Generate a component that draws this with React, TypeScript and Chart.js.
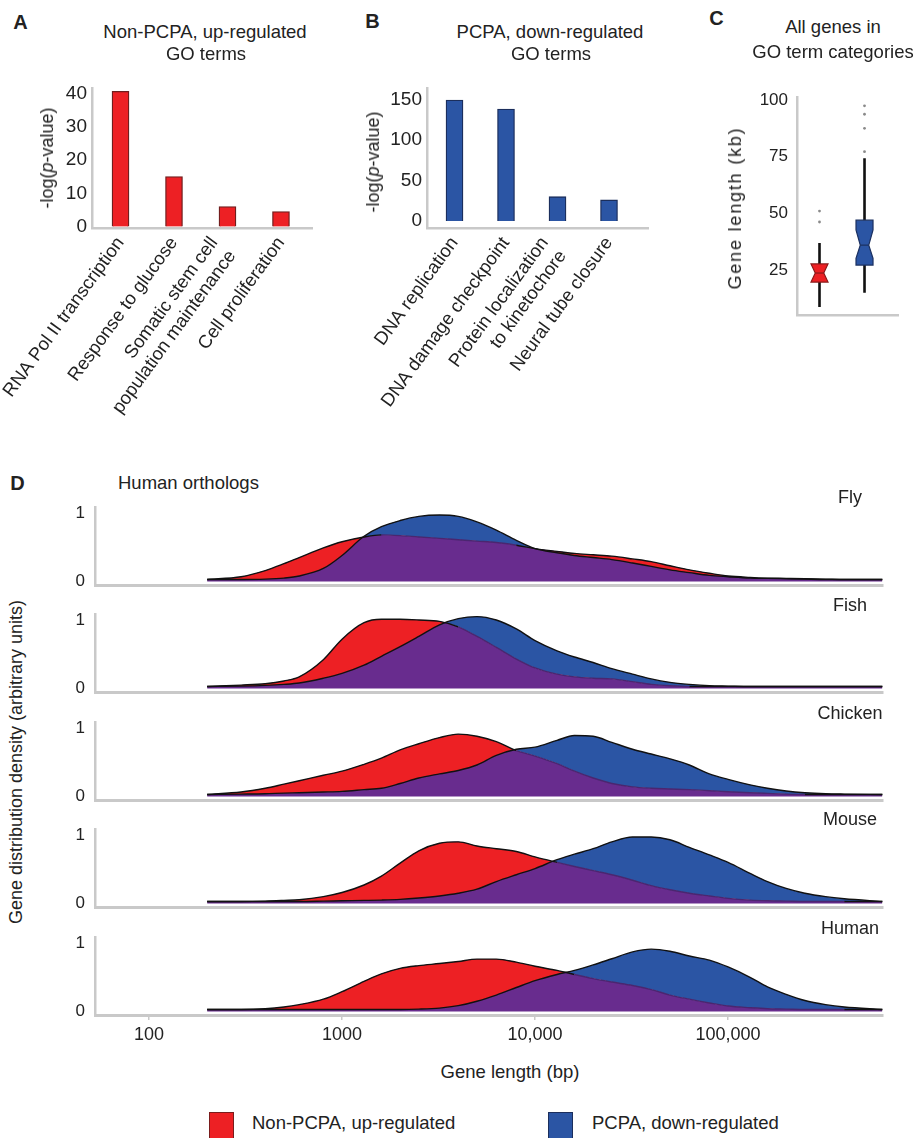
import React, { useEffect, useRef } from 'react';
import { Chart, registerables } from 'chart.js';

Chart.register(...registerables);

// ---------- Panel A data ----------
const upTerms: (string | string[])[] = [
  'RNA Pol II transcription',
  'Response to glucose',
  ['Somatic stem cell', 'population maintenance'],
  'Cell proliferation',
];
const upValues = [40.8, 15.1, 6.0, 4.5];
const upTicks = [0, 10, 20, 30, 40];

// ---------- Panel B data ----------
const downTerms: (string | string[])[] = [
  'DNA replication',
  'DNA damage checkpoint',
  ['Protein localization', 'to kinetochore'],
  'Neural tube closure',
];
const downValues = [149, 138, 30, 26];
const downTicks = [0, 50, 100, 150];

// ---------- Panel C data (gene length, kb) ----------
const boxGroups = ['Non-PCPA, up-regulated', 'PCPA, down-regulated'];
const boxWhiskerLow = [8.7, 15.0];
const boxQ1 = [19.7, 27.2];
const boxMedian = [23.7, 36.0];
const boxQ3 = [27.7, 47.0];
const boxWhiskerHigh = [36.9, 74.3];
const boxNotchLow = [19.7, 30.2];
const boxNotchHigh = [27.7, 42.7];
const boxOutliers = [
  [46.2, 51.0],
  [77.2, 87.5, 93.7, 97.4],
];
const boxTicks = [25, 50, 75, 100];

// ---------- Panel D data ----------
const geneLengthBp = [
  200, 300, 400, 500, 600, 800, 1000, 1300, 1600, 2000, 2500, 3200, 4000, 5000, 6300, 8000, 10000,
  13000, 16000, 20000, 25000, 32000, 40000, 50000, 63000, 80000, 100000, 130000, 160000, 200000,
  250000, 320000, 400000, 630000,
];
const species = ['Fly', 'Fish', 'Chicken', 'Mouse', 'Human'];

const flyNonPcpa = [0.03, 0.07, 0.16, 0.26, 0.35, 0.49, 0.58, 0.65, 0.68, 0.67, 0.65, 0.63, 0.61, 0.59, 0.57, 0.53, 0.48, 0.44, 0.41, 0.39, 0.37, 0.33, 0.29, 0.23, 0.17, 0.12, 0.08, 0.06, 0.05, 0.045, 0.04, 0.035, 0.03, 0.03];
const flyPcpa = [0.03, 0.03, 0.035, 0.05, 0.08, 0.19, 0.38, 0.66, 0.8, 0.89, 0.95, 0.97, 0.95, 0.87, 0.75, 0.6, 0.48, 0.42, 0.38, 0.35, 0.32, 0.27, 0.22, 0.17, 0.13, 0.09, 0.07, 0.05, 0.045, 0.04, 0.035, 0.03, 0.03, 0.03];

const fishNonPcpa = [0.03, 0.05, 0.07, 0.11, 0.17, 0.42, 0.72, 0.96, 1.01, 1.01, 1.0, 0.98, 0.9, 0.76, 0.6, 0.43, 0.3, 0.21, 0.17, 0.15, 0.14, 0.1, 0.06, 0.04, 0.03, 0.03, 0.03, 0.03, 0.03, 0.03, 0.03, 0.03, 0.03, 0.03];
const fishPcpa = [0.03, 0.035, 0.045, 0.06, 0.08, 0.15, 0.22, 0.34, 0.47, 0.61, 0.76, 0.93, 1.02, 1.05, 1.0, 0.87, 0.7, 0.55, 0.46, 0.38, 0.29, 0.21, 0.14, 0.09, 0.06, 0.04, 0.035, 0.03, 0.03, 0.03, 0.03, 0.03, 0.03, 0.03];

const chickenNonPcpa = [0.03, 0.065, 0.12, 0.18, 0.23, 0.31, 0.37, 0.47, 0.56, 0.68, 0.77, 0.86, 0.91, 0.88, 0.8, 0.67, 0.59, 0.48, 0.37, 0.27, 0.19, 0.14, 0.12, 0.11, 0.1, 0.085, 0.07, 0.055, 0.045, 0.035, 0.03, 0.03, 0.03, 0.03];
const chickenPcpa = [0.03, 0.035, 0.04, 0.05, 0.055, 0.065, 0.075, 0.1, 0.12, 0.19, 0.27, 0.33, 0.38, 0.46, 0.6, 0.69, 0.72, 0.82, 0.89, 0.88, 0.79, 0.69, 0.62, 0.55, 0.46, 0.33, 0.25, 0.17, 0.12, 0.08, 0.055, 0.04, 0.035, 0.03];

const mouseNonPcpa = [0.03, 0.03, 0.035, 0.045, 0.055, 0.1, 0.16, 0.27, 0.4, 0.59, 0.77, 0.88, 0.9, 0.84, 0.8, 0.76, 0.68, 0.6, 0.54, 0.48, 0.42, 0.34, 0.26, 0.2, 0.15, 0.11, 0.075, 0.05, 0.04, 0.035, 0.03, 0.03, 0.03, 0.03];
const mousePcpa = [0.03, 0.03, 0.03, 0.03, 0.03, 0.035, 0.04, 0.045, 0.05, 0.06, 0.08, 0.11, 0.15, 0.21, 0.32, 0.42, 0.51, 0.64, 0.72, 0.8, 0.9, 0.97, 0.97, 0.93, 0.82, 0.71, 0.6, 0.44, 0.32, 0.22, 0.15, 0.1, 0.07, 0.03];

const humanNonPcpa = [0.03, 0.03, 0.04, 0.065, 0.1, 0.18, 0.29, 0.44, 0.55, 0.63, 0.67, 0.7, 0.73, 0.765, 0.765, 0.72, 0.66, 0.6, 0.54, 0.48, 0.43, 0.38, 0.32, 0.24, 0.18, 0.125, 0.08, 0.055, 0.04, 0.035, 0.03, 0.03, 0.03, 0.03];
const humanPcpa = [0.03, 0.03, 0.03, 0.03, 0.03, 0.03, 0.03, 0.03, 0.03, 0.03, 0.035, 0.05, 0.085, 0.15, 0.24, 0.35, 0.45, 0.54, 0.6, 0.68, 0.77, 0.87, 0.91, 0.88, 0.81, 0.75, 0.65, 0.5, 0.36, 0.25, 0.16, 0.1, 0.065, 0.03];

const densityNonPcpa = [flyNonPcpa, fishNonPcpa, chickenNonPcpa, mouseNonPcpa, humanNonPcpa];
const densityPcpa = [flyPcpa, fishPcpa, chickenPcpa, mousePcpa, humanPcpa];
const densityYTicks = [0, 1];
const densityXTicks = [100, 1000, 10000, 100000];
const densityXTickLabels = ['100', '1000', '10,000', '100,000'];

// ---------- styles ----------
const FONT = '"Liberation Sans", Arial, Helvetica, sans-serif';
const TEXT = '#222';
const AXIS_GRAY = '#c9c9c9';
const RED = '#ED2024';
const BLUE = '#2B55A4';
const PURPLE = '#682C8E';
const LINE = '#111';
const HIDDEN_LINE = '#4a2670';

const rowAxisY = [585, 692, 800, 907, 1015];

function goBarConfig(
  terms: (string | string[])[],
  values: number[],
  ticks: number[],
  fill: string,
  edge: string,
  yMin: number,
  yMax: number,
  xMin: number,
  xMax: number,
  yWidth: number,
  padRight: number
): any {
  return {
    type: 'bar',
    data: {
      datasets: [
        {
          data: values.map((v, i) => ({ x: i, y: v })),
          backgroundColor: fill,
          borderColor: edge,
          borderWidth: 1.3,
          barThickness: 17,
        },
      ],
    },
    options: {
      responsive: false,
      animation: false,
      layout: { padding: { top: 28, right: padRight, left: 0, bottom: 0 } },
      plugins: { legend: { display: false }, tooltip: { enabled: false } },
      scales: {
        x: {
          type: 'linear',
          offset: false,
          min: xMin,
          max: xMax,
          grid: { display: false, drawTicks: false, offset: false },
          border: { display: true, color: AXIS_GRAY, width: 2.5 },
          afterBuildTicks: (s: any) => {
            // two-line labels are centred on their bar, as in the figure
            s.ticks = terms.map((t, i) => ({ value: Array.isArray(t) ? i - 0.25 : i }));
          },
          ticks: {
            autoSkip: false,
            minRotation: 54,
            maxRotation: 54,
            padding: 5,
            color: TEXT,
            font: { family: FONT, size: 18.5 },
            callback: (_v: any, i: number) => terms[i],
          },
          afterFit: (s: any) => {
            s.height = 212;
            s.paddingLeft = 0;
            s.paddingRight = 0;
          },
        },
        y: {
          min: yMin,
          max: yMax,
          grid: { display: false, drawTicks: false },
          border: { display: true, color: AXIS_GRAY, width: 2.5 },
          afterBuildTicks: (s: any) => {
            s.ticks = ticks.map((v) => ({ value: v }));
          },
          ticks: { padding: 5, color: TEXT, font: { family: FONT, size: 19 } },
          afterFit: (s: any) => {
            s.width = yWidth;
            s.paddingTop = 0;
            s.paddingBottom = 0;
          },
        },
      },
    },
  };
}

const boxFill = [RED, BLUE];
const boxEdge = ['#8B1A1A', '#1B3060'];

const notchedBoxPlugin = {
  id: 'notchedBoxes',
  beforeDatasetsDraw(chart: any) {
    const { ctx, scales } = chart;
    const x = scales.x;
    const y = scales.y;
    boxGroups.forEach((_, i) => {
      const cx = x.getPixelForValue(i);
      const half = 8.5;
      const nh = half * 0.5;
      const yq3 = y.getPixelForValue(boxQ3[i]);
      const yq1 = y.getPixelForValue(boxQ1[i]);
      const ym = y.getPixelForValue(boxMedian[i]);
      const ynh = y.getPixelForValue(boxNotchHigh[i]);
      const ynl = y.getPixelForValue(boxNotchLow[i]);
      ctx.save();
      ctx.strokeStyle = LINE;
      ctx.lineWidth = 2.6;
      ctx.beginPath();
      ctx.moveTo(cx, y.getPixelForValue(boxWhiskerHigh[i]));
      ctx.lineTo(cx, yq3);
      ctx.moveTo(cx, yq1);
      ctx.lineTo(cx, y.getPixelForValue(boxWhiskerLow[i]));
      ctx.stroke();
      ctx.beginPath();
      ctx.moveTo(cx - half, yq3);
      ctx.lineTo(cx + half, yq3);
      ctx.lineTo(cx + half, ynh);
      ctx.lineTo(cx + nh, ym);
      ctx.lineTo(cx + half, ynl);
      ctx.lineTo(cx + half, yq1);
      ctx.lineTo(cx - half, yq1);
      ctx.lineTo(cx - half, ynl);
      ctx.lineTo(cx - nh, ym);
      ctx.lineTo(cx - half, ynh);
      ctx.closePath();
      ctx.fillStyle = boxFill[i];
      ctx.fill();
      ctx.strokeStyle = boxEdge[i];
      ctx.lineWidth = 1.2;
      ctx.stroke();
      ctx.beginPath();
      ctx.moveTo(cx - nh, ym);
      ctx.lineTo(cx + nh, ym);
      ctx.stroke();
      ctx.restore();
    });
  },
};

function boxConfig(): any {
  return {
    type: 'scatter',
    data: {
      datasets: [
        {
          data: boxOutliers.flatMap((arr, gi) => arr.map((v) => ({ x: gi, y: v }))),
          pointRadius: 1.4,
          backgroundColor: '#8a8a8a',
          borderWidth: 0,
        },
      ],
    },
    options: {
      responsive: false,
      animation: false,
      layout: { padding: { top: 27, right: 19, left: 0, bottom: 15 } },
      plugins: { legend: { display: false }, tooltip: { enabled: false } },
      scales: {
        x: {
          type: 'linear',
          min: -0.5,
          max: 1.744,
          grid: { display: false, drawTicks: false },
          ticks: { display: false },
          border: { display: true, color: AXIS_GRAY, width: 2.5 },
          afterFit: (s: any) => {
            s.height = 0;
            s.paddingLeft = 0;
            s.paddingRight = 0;
          },
        },
        y: {
          min: 5.2,
          max: 101.3,
          grid: { display: false, drawTicks: false },
          border: { display: true, color: AXIS_GRAY, width: 2.5 },
          afterBuildTicks: (s: any) => {
            s.ticks = boxTicks.map((v) => ({ value: v }));
          },
          ticks: { padding: 9, color: TEXT, font: { family: FONT, size: 17 } },
          afterFit: (s: any) => {
            s.width = 97;
            s.paddingTop = 0;
            s.paddingBottom = 0;
          },
        },
      },
    },
    plugins: [notchedBoxPlugin],
  };
}

function densityConfig(idx: number): any {
  const red = densityNonPcpa[idx];
  const blue = densityPcpa[idx];
  const bottom = idx === species.length - 1;
  const redPts = geneLengthBp.map((x, i) => ({ x, y: red[i] }));
  const bluePts = geneLengthBp.map((x, i) => ({ x, y: blue[i] }));
  return {
    type: 'line',
    data: {
      datasets: [
        {
          label: 'PCPA, down-regulated',
          data: bluePts,
          borderColor: LINE,
          borderWidth: 1.4,
          pointRadius: 0,
          cubicInterpolationMode: 'monotone',
          fill: { target: 1, above: BLUE, below: RED },
        },
        {
          label: 'Non-PCPA, up-regulated',
          data: redPts,
          borderWidth: 0,
          borderColor: 'rgba(0,0,0,0)',
          pointRadius: 0,
          cubicInterpolationMode: 'monotone',
          fill: 'origin',
          backgroundColor: PURPLE,
        },
        {
          label: 'Non-PCPA outline',
          data: redPts,
          borderColor: LINE,
          borderWidth: 1.4,
          pointRadius: 0,
          cubicInterpolationMode: 'monotone',
          fill: false,
          segment: {
            borderColor: (c: any) =>
              blue[c.p0DataIndex] > red[c.p0DataIndex] + 0.01 &&
              blue[c.p1DataIndex] > red[c.p1DataIndex] + 0.01
                ? HIDDEN_LINE
                : LINE,
          },
        },
      ],
    },
    options: {
      responsive: false,
      animation: false,
      layout: { padding: { top: 12, right: 7, left: 0, bottom: bottom ? 0 : 4 } },
      plugins: {
        legend: { display: false },
        tooltip: { enabled: false },
        filler: { drawTime: 'beforeDatasetsDraw' },
      },
      scales: {
        x: {
          type: 'logarithmic',
          min: 52.5,
          max: 635000,
          grid: {
            display: bottom,
            drawOnChartArea: false,
            drawTicks: true,
            tickLength: 5,
            color: AXIS_GRAY,
            lineWidth: 1.5,
          },
          border: { display: true, color: AXIS_GRAY, width: 3 },
          afterBuildTicks: (s: any) => {
            s.ticks = densityXTicks.map((v) => ({ value: v }));
          },
          ticks: {
            display: bottom,
            autoSkip: false,
            maxRotation: 0,
            minRotation: 0,
            padding: 4,
            color: TEXT,
            font: { family: FONT, size: 18 },
            callback: (_v: any, i: number) => densityXTickLabels[i],
          },
          afterFit: (s: any) => {
            s.height = bottom ? 40 : 0;
            s.paddingLeft = 0;
            s.paddingRight = 0;
          },
        },
        y: {
          min: -0.051,
          max: 1.0876,
          grid: { display: false, drawTicks: false },
          border: { display: true, color: AXIS_GRAY, width: 2.5 },
          afterBuildTicks: (s: any) => {
            s.ticks = densityYTicks.map((v) => ({ value: v }));
          },
          ticks: { padding: 10, color: TEXT, font: { family: FONT, size: 17 } },
          afterFit: (s: any) => {
            s.width = 55;
            s.paddingTop = 0;
            s.paddingBottom = 0;
          },
        },
      },
    },
  };
}

function ChartCanvas(props: { left: number; top: number; width: number; height: number; make: () => any }) {
  const ref = useRef<HTMLCanvasElement | null>(null);
  useEffect(() => {
    const chart = new Chart(ref.current as HTMLCanvasElement, props.make());
    return () => chart.destroy();
  }, []);
  return (
    <canvas
      ref={ref}
      width={props.width}
      height={props.height}
      style={{ position: 'absolute', left: props.left, top: props.top, width: props.width, height: props.height }}
    />
  );
}

function Label(props: {
  x: number;
  y: number;
  children: React.ReactNode;
  size?: number;
  bold?: boolean;
  anchor?: 'start' | 'middle';
  rotate?: number;
  spacing?: number;
}) {
  const { x, y, children, size = 18.5, bold = false, anchor = 'middle', rotate = 0, spacing = 0 } = props;
  const tx = anchor === 'start' ? '0' : '-50%';
  return (
    <div
      style={{
        position: 'absolute',
        left: x,
        top: y,
        transform: `translate(${tx},-50%)${rotate ? ` rotate(${rotate}deg)` : ''}`,
        fontFamily: FONT,
        fontSize: size,
        fontWeight: bold ? 700 : 400,
        lineHeight: 1,
        whiteSpace: 'nowrap',
        color: TEXT,
        letterSpacing: spacing,
      }}
    >
      {children}
    </div>
  );
}

export default function App() {
  const speciesLabelY = [497, 604.5, 712.5, 819, 927.5];
  return (
    <div
      style={{
        position: 'absolute',
        left: 0,
        top: 0,
        width: 917,
        height: 1138,
        background: '#fff',
        overflow: 'hidden',
      }}
    >
      {/* Panel A */}
      <ChartCanvas
        left={0}
        top={60}
        width={330}
        height={380}
        make={() => goBarConfig(upTerms, upValues, upTicks, RED, '#6E1E1E', -0.45, 41.8, -0.533, 3.58, 92, 18)}
      />
      {/* Panel B */}
      <ChartCanvas
        left={340}
        top={60}
        width={330}
        height={380}
        make={() => goBarConfig(downTerms, downValues, downTicks, BLUE, '#1B2E5C', -8.6, 163.9, -0.534, 3.757, 87, 22)}
      />
      {/* Panel C */}
      <ChartCanvas left={700} top={70} width={217} height={260} make={boxConfig} />
      {/* Panel D rows */}
      {species.map((s, i) => (
        <ChartCanvas
          key={s}
          left={40}
          top={rowAxisY[i] - 90}
          width={850}
          height={i === species.length - 1 ? 130 : 94}
          make={() => densityConfig(i)}
        />
      ))}

      {/* panel letters */}
      <Label x={20.5} y={21.5} size={20} bold>A</Label>
      <Label x={372.5} y={21} size={20} bold>B</Label>
      <Label x={716.5} y={17.5} size={20} bold>C</Label>
      <Label x={17.5} y={483} size={20} bold>D</Label>

      {/* titles */}
      <Label x={205} y={32}>Non-PCPA, up-regulated</Label>
      <Label x={206} y={53.5}>GO terms</Label>
      <Label x={550} y={32}>PCPA, down-regulated</Label>
      <Label x={551} y={53.5}>GO terms</Label>
      <Label x={833} y={27}>All genes in</Label>
      <Label x={833} y={51.5}>GO term categories</Label>

      {/* axis titles */}
      <Label x={47} y={157.5} size={18} rotate={-90}>
        -log(<i>p</i>-value)
      </Label>
      <Label x={373} y={161.5} size={18} rotate={-90}>
        -log(<i>p</i>-value)
      </Label>
      <Label x={735} y={207.5} size={18} rotate={-90} spacing={1.8}>
        Gene length (kb)
      </Label>
      <Label x={16} y={761.5} size={18} rotate={-90}>
        Gene distribution density (arbitrary units)
      </Label>
      <Label x={510} y={1072}>Gene length (bp)</Label>

      {/* D annotations */}
      <Label x={118} y={483} anchor="start">Human orthologs</Label>
      {species.map((s, i) => (
        <Label key={s} x={850} y={speciesLabelY[i]} size={18}>
          {s}
        </Label>
      ))}

      {/* legend */}
      <div style={{ position: 'absolute', left: 209, top: 1112, width: 25, height: 28, background: RED, border: '1px solid #7a1c1c', boxSizing: 'border-box' }} />
      <Label x={252} y={1123} anchor="start">Non-PCPA, up-regulated</Label>
      <div style={{ position: 'absolute', left: 548, top: 1112, width: 25, height: 28, background: BLUE, border: '1px solid #1b2e5c', boxSizing: 'border-box' }} />
      <Label x={592} y={1123} anchor="start">PCPA, down-regulated</Label>
    </div>
  );
}
